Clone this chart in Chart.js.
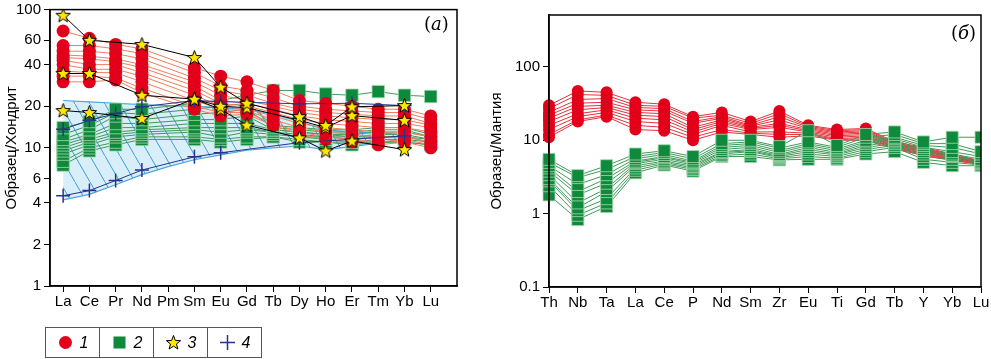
<!DOCTYPE html>
<html>
<head>
<meta charset="utf-8">
<script src="https://cdn.jsdelivr.net/npm/chart.js@4.4.1/dist/chart.umd.min.js"></script>
<style>
    body { margin: 0; background: #fff; width: 991px; height: 359px; overflow: hidden; position: relative; font-family: "Liberation Sans", Arial, sans-serif; }
    #chartA { position: absolute; left: 0; top: 0; }
    #chartB { position: absolute; left: 480px; top: 0; }
    .panel { position: absolute; font-family: "DejaVu Serif", "Liberation Serif", serif; font-size: 18px; color: #000; }
    #legend { position: absolute; left: 45px; top: 327px; border-collapse: collapse; }
    #legend td { border: 1px solid #555; width: 53px; height: 29px; padding: 0; text-align: center; font-style: italic; font-size: 16px; }
    #legend td canvas { vertical-align: middle; margin-right: 6px; }
    #legend td span { vertical-align: middle; }
</style>
</head>
<body>
<canvas id="chartA" width="480" height="330"></canvas>
<canvas id="chartB" width="511" height="330"></canvas>
<div class="panel" style="left:424px; top:13px;">(<i>а</i>)</div>
<div class="panel" style="left:951px; top:22px;">(<i>б</i>)</div>
<table id="legend"><tr>
    <td id="leg1"><span>1</span></td>
    <td id="leg2"><span>2</span></td>
    <td id="leg3"><span>3</span></td>
    <td id="leg4"><span>4</span></td>
</tr></table>

<script>
// ---- (а) хондрит-нормированные РЗЭ ----
var elementosA = ["La", "Ce", "Pr", "Nd", "Pm", "Sm", "Eu", "Gd", "Tb", "Dy", "Ho", "Er", "Tm", "Yb", "Lu"];
var ticksA = [1, 2, 4, 6, 10, 20, 40, 60, 100];

// grupo 1 (círculos vermelhos)
var grupo1A = [
    [70, 62, 56, 52, null, 38, 33, 30, 26, 22, 21, 20, 19, 19, 17],
    [55, 55, 52, 48, null, 35, 28, 26, 23, 20, 19, 18.5, 18, 18, 16],
    [50, 50, 48, 44, null, 32, 26, 24, 21, 19, 18, 17.5, 17, 17, 15],
    [47, 46, 44, 40, null, 30, 24, 22, 20, 18, 17, 16.5, 16, 16, 14.5],
    [45, 44, 42, 38, null, 28, 22, 21, 19, 17, 16, 15.5, 15, 15, 14],
    [43, 40, 40, 35, null, 26, 21, 20, 18, 16, 15, 14.5, 14, 14, 13],
    [40, 37, 37, 33, null, 24, 20, 19, 17, 15, 14, 13.5, 13, 13, 12],
    [36, 35, 35, 30, null, 22, 19, 18.5, 16, 14, 13, 12.5, 12, 12, 11],
    [33, 33, 32, 27, null, 20, 18, 18, 15, 13, 12, 11.5, 11, 11.5, 10.5],
    [30, 30, 31, 25, null, 19, 17, 17.5, 14.5, 12.5, 11.5, 11, 10.5, 11, 10]
];

// grupo 2 (quadrados verdes)
var grupo2A = [
    [14, 15.5, 19, 19, null, 21, 22, 24, 26, 26, 24.5, 24, 25.5, 24, 23.5],
    [12.5, 14.5, 18, 17.5, null, 19, 20, 21, 14.5, 14, 13.5, 13.5, 14, 14, 12.5],
    [11.5, 13.5, 17, 16, null, 17.5, 18, 19, 14, 13.5, 13, 13, 13.5, 13.5, 12],
    [11, 12.5, 15, 15, null, 16, 16, 17, 13.5, 13, 12.5, 12.5, 13, 13, 12],
    [10.5, 12, 14, 14, null, 15, 15, 15, 13.5, 13, 12.5, 12, 12.5, 12.5, 11.5],
    [10, 11.5, 13, 13.5, null, 14, 14, 14, 13, 12.5, 12, 12, 12, 12, 11.5],
    [9.5, 11, 12.5, 13, null, 13.5, 13, 13.5, 13, 12, 12, 11.5, 12, 12, 11],
    [9, 10.5, 12, 12.5, null, 13, 12, 13, 12.5, 12, 11.5, 11, 11.5, 11.5, 11],
    [8, 10, 11, 12, null, 12, 11.5, 12, 12, 11.5, 11, 11, 11, 11, 10.5],
    [7.5, 9.5, 10.5, 11.5, null, 11.5, 11, 11.5, 12, 11, 11, 10.5, 11, 11, 10.5]
];

// grupo 3 (estrelas)
var grupo3A = [
    [91, 60, null, 56, null, 45, 27.5, 21, null, 16.8, 14.5, 19.8, null, 20.2, null],
    [34.5, 34.5, null, 24, null, 22.5, 20, 19.5, null, 15.8, 14, 17.1, null, 15.8, null],
    [18.6, 18, null, 16.3, null, 22.5, 19, 14.6, null, 11.8, 9.5, 11.2, null, 9.7, null]
];

// grupo 4 (cruzes) e campo sombreado
var grupo4A = [
    [13.6, 15.8, 17.7, 19.8, null, 22, 21.6, null, null, 20.8, null, 21, null, 20.2, null],
    [4.5, 4.9, 5.8, 6.9, null, 8.6, 9.2, null, null, 10.9, null, null, null, 12.2, null]
];
var campoTopoA = [22, 21.5, 21, 20.5, 20.2, 20, 19.5, 19, 17.5, 15.5, 13.5, 13, 12.8, 12.5, null];
var campoBaseA = [4.2, 4.6, 5.4, 6.4, 7.3, 8.2, 8.9, 9.6, 10, 10.3, 9.7, 10.2, 10.8, 11.5, null];

// ---- (б) мантия-нормированные ----
var elementosB = ["Th", "Nb", "Ta", "La", "Ce", "P", "Nd", "Sm", "Zr", "Eu", "Ti", "Gd", "Tb", "Y", "Yb", "Lu"];
var ticksB = [0.1, 1, 10, 100];

var grupo1B = [
    [30, 47, 45, 33, 31, 21, 24, 18, 25, 16, 14, 14.5, 9.5, 8, 6.5, 5.2],
    [27, 42, 41, 30, 29, 20, 22, 17, 23, 15.5, 13.5, 14, 9.2, 7.8, 6.3, 5.1],
    [24, 36, 37, 28, 27, 18, 21, 16, 21, 15, 13, 13.5, 9, 7.6, 6.1, 5],
    [22, 32, 33, 26, 25, 17, 20, 15.5, 19, 14.5, 12.5, 13, 8.8, 7.4, 6, 5],
    [20, 29, 30, 24, 23, 15, 19, 15, 17, 14, 12, 12.5, 8.6, 7.2, 5.9, 4.9],
    [18, 26, 28, 22, 21, 14, 18, 14.5, 16, 13.5, 11.5, 12, 8.4, 7, 5.8, 4.9],
    [16, 23, 26, 20, 19, 13, 17, 14, 15, 13, 11, 11.5, 8.2, 6.8, 5.6, 4.8],
    [14, 21, 24, 18, 17, 12, 16, 13, 13, 12.5, 10.5, 11, 8, 6.6, 5.5, 4.8],
    [12, 19, 22, 16, 15, 11, 14, 12.5, 12, 12, 10.2, 10.5, 7.8, 6.4, 5.4, 4.7],
    [11, 18, 21, 14, 13.5, 10, 13, 12, 11, 11.5, 10, 10, 7.6, 6.2, 5.3, 4.7]
];

var grupo2B = [
    [5.5, 3.3, 4.5, 6.5, 7.2, 6, 10, 10, 8.2, 13.5, 8.5, 12, 13, 9.5, 11, 11],
    [5, 3.1, 4, 6, 6.8, 5.6, 9, 9.5, 7.8, 9.5, 8, 11, 12, 9, 9, 7],
    [4.5, 2.5, 3.4, 5.6, 6.4, 5.2, 8.5, 9, 7.2, 9, 7.6, 10, 11, 8.5, 8, 6.5],
    [4.2, 2, 3, 5.2, 6, 5, 8, 8.5, 6.8, 8.5, 7.2, 9.5, 10.5, 8, 7, 6],
    [3.8, 1.8, 2.6, 5, 5.8, 4.8, 7.5, 8, 6.4, 8, 6.8, 9, 10, 7.5, 6.5, 5.5],
    [3.4, 1.4, 2.2, 4.8, 5.5, 4.6, 7, 7.5, 6.2, 7.5, 6.5, 8.5, 9.5, 7, 6.2, 5.2],
    [3, 1.2, 2, 4.5, 5.2, 4.4, 6.8, 7.2, 6, 7, 6.3, 8, 9, 6.5, 6, 5],
    [2.8, 1.1, 1.6, 4.2, 5, 4.2, 6.5, 7, 5.8, 6.5, 6, 7.5, 8.5, 6, 5.5, 4.8],
    [2.4, 0.95, 1.4, 3.9, 4.8, 4, 6.2, 6.5, 5.6, 6, 5.7, 7, 8, 5.5, 5, 4.6],
    [1.8, 0.83, 1.25, 3.6, 4.6, 3.8, 6, 6, 5.4, 5.5, 5.5, 6.5, 7, 5, 4.5, 4.5]
];

var fonte = "'Liberation Sans', Arial, sans-serif";

function pontos(valores) {
    return valores.map(function (v, i) { return { x: i, y: v }; });
}

function criarEstrela(tamanho) {
    var c = document.createElement("canvas");
    c.width = tamanho;
    c.height = tamanho;
    var g = c.getContext("2d");
    var cx = tamanho / 2, cy = tamanho / 2 + 0.5;
    var ro = tamanho / 2 - 1, ri = ro * 0.42;
    g.beginPath();
    for (var i = 0; i < 10; i++) {
        var r = i % 2 == 0 ? ro : ri;
        var a = -Math.PI / 2 + i * Math.PI / 5;
        g.lineTo(cx + r * Math.cos(a), cy + r * Math.sin(a));
    }
    g.closePath();
    g.fillStyle = "#ffe900";
    g.fill();
    g.strokeStyle = "#000";
    g.lineWidth = 1;
    g.stroke();
    return c;
}

function criarHachura() {
    var c = document.createElement("canvas");
    c.width = 15;
    c.height = 26;
    var g = c.getContext("2d");
    g.fillStyle = "#d8eef9";
    g.fillRect(0, 0, 15, 26);
    g.strokeStyle = "#3d9bd8";
    g.lineWidth = 1;
    g.beginPath();
    g.moveTo(-1, -1.7);
    g.lineTo(16, 27.7);
    g.stroke();
    return g.createPattern(c, "repeat");
}

var moldura = {
    id: "moldura",
    afterDraw: function (chart) {
        var a = chart.chartArea;
        var ctx = chart.ctx;
        ctx.save();
        ctx.strokeStyle = "#000";
        ctx.lineWidth = 1.5;
        ctx.strokeRect(a.left, a.top, a.right - a.left, a.bottom - a.top);
        ctx.restore();
    }
};

var estrela = criarEstrela(17);

function eixoX(nomes, min, max, altura) {
    return {
        type: "linear",
        min: min,
        max: max,
        afterBuildTicks: function (s) {
            s.ticks = nomes.map(function (n, i) { return { value: i }; });
        },
        afterFit: function (s) {
            s.height = altura;
            s.paddingLeft = 0;
            s.paddingRight = 0;
        },
        ticks: {
            callback: function (v) { return nomes[Math.round(v)]; },
            font: { family: fonte, size: 15 },
            color: "#000",
            maxRotation: 0,
            autoSkip: false,
            padding: 1
        },
        grid: { drawOnChartArea: false, color: "#000", tickLength: 6, lineWidth: 1 },
        border: { color: "#000", width: 1.5 }
    };
}

function eixoY(lista, min, max, largura, titulo, recuo) {
    return {
        type: "logarithmic",
        min: min,
        max: max,
        afterBuildTicks: function (s) {
            s.ticks = lista.map(function (v) { return { value: v }; });
        },
        afterFit: function (s) {
            s.width = largura;
            s.paddingTop = 0;
            s.paddingBottom = 0;
        },
        ticks: {
            callback: function (v) { return String(v); },
            font: { family: fonte, size: 15 },
            color: "#000",
            padding: 3
        },
        title: {
            display: true,
            text: titulo,
            font: { family: fonte, size: 15 },
            color: "#000",
            padding: { top: recuo, bottom: 0 }
        },
        grid: { drawOnChartArea: false, color: "#000", tickLength: 6, lineWidth: 1 },
        border: { color: "#000", width: 1.5 }
    };
}

// linhas e marcadores em conjuntos separados: marcadores ficam acima das linhas
function linhas(grupo, cor, extra) {
    return grupo.map(function (s) {
        return Object.assign({
            data: pontos(s), borderColor: cor, borderWidth: 1, spanGaps: true, pointRadius: 0
        }, extra || {});
    });
}

function marcadores(grupo, estilo, extra) {
    return grupo.map(function (s) {
        return Object.assign({ data: pontos(s), showLine: false, pointStyle: estilo }, extra);
    });
}

var clipB = { left: 20, top: 20, right: 0, bottom: 20 };

// ---------- gráfico (а) ----------  (o primeiro conjunto fica por cima)
var dadosA = [].concat(
    marcadores(grupo3A, estrela, { pointRadius: 8 }),
    linhas(grupo3A, "#000"),
    marcadores(grupo4A, "cross", { pointRadius: 7, pointBorderWidth: 1.5, pointBorderColor: "#27348b" }),
    linhas(grupo4A, "#27348b"),
    marcadores(grupo1A, "circle", { pointRadius: 6.5, pointBorderWidth: 0, pointBackgroundColor: "#e2001a", pointBorderColor: "#e2001a" }),
    marcadores(grupo2A, "rect", { pointRadius: 8.8, pointBorderWidth: 0.8, pointBackgroundColor: "#0f8a3c", pointBorderColor: "#a8d9b3" }),
    linhas(grupo1A, "#f07d5e"),
    linhas(grupo2A, "#3f9a58")
);
dadosA.push({
    data: pontos(campoTopoA), borderColor: "#4aa6df", borderWidth: 1.2, spanGaps: true,
    pointRadius: 0, fill: "+1", backgroundColor: criarHachura()
});
dadosA.push({
    data: pontos(campoBaseA), borderColor: "#4aa6df", borderWidth: 1.2, spanGaps: true,
    pointRadius: 0, fill: false
});

new Chart(document.getElementById("chartA"), {
    type: "line",
    data: { datasets: dadosA },
    options: {
        responsive: false,
        animation: false,
        layout: { padding: { top: 4, right: 23, bottom: 0, left: 0 } },
        plugins: { legend: { display: false }, tooltip: { enabled: false }, filler: { drawTime: "beforeDatasetsDraw" } },
        scales: {
            x: eixoX(elementosA, -0.5, 15, 44),
            y: eixoY(ticksA, 1, 100, 50, "Образец/Хондрит", 3)
        }
    },
    plugins: [moldura]
});

// ---------- gráfico (б) ----------
var dadosB = [].concat(
    marcadores(grupo2B, "rect", { pointRadius: 8.5, pointBorderWidth: 0.8, pointBackgroundColor: "#0f8a3c", pointBorderColor: "#a8d9b3", clip: clipB }),
    marcadores(grupo1B, "circle", {
        pointBorderWidth: 0, pointBackgroundColor: "#e2001a", pointBorderColor: "#e2001a", clip: clipB,
        pointRadius: function (c) { return c.dataIndex >= 12 ? 0 : 6; }
    }),
    linhas(grupo2B, "#3f9a58", { clip: clipB }),
    linhas(grupo1B, "#e4323a", { clip: clipB })
);

new Chart(document.getElementById("chartB"), {
    type: "line",
    data: { datasets: dadosB },
    options: {
        responsive: false,
        animation: false,
        layout: { padding: { top: 15, right: 10, bottom: 0, left: 0 } },
        plugins: { legend: { display: false }, tooltip: { enabled: false } },
        scales: {
            x: eixoX(elementosB, 0, 15, 43),
            y: eixoY(ticksB, 0.1, 510, 69, "Образец/Мантия", 8)
        }
    },
    plugins: [moldura]
});

// ---------- legenda ----------
function simbolo(desenho) {
    var c = document.createElement("canvas");
    c.width = 17;
    c.height = 17;
    desenho(c.getContext("2d"));
    return c;
}

document.getElementById("leg1").prepend(simbolo(function (g) {
    g.fillStyle = "#e2001a";
    g.beginPath();
    g.arc(8.5, 8.5, 6.5, 0, Math.PI * 2);
    g.fill();
}));
document.getElementById("leg2").prepend(simbolo(function (g) {
    g.fillStyle = "#0f8a3c";
    g.fillRect(2.5, 2.5, 12, 12);
}));
document.getElementById("leg3").prepend(criarEstrela(17));
document.getElementById("leg4").prepend(simbolo(function (g) {
    g.strokeStyle = "#27348b";
    g.lineWidth = 1.5;
    g.beginPath();
    g.moveTo(1, 8.5); g.lineTo(16, 8.5);
    g.moveTo(8.5, 1); g.lineTo(8.5, 16);
    g.stroke();
}));
</script>
</body>
</html>
